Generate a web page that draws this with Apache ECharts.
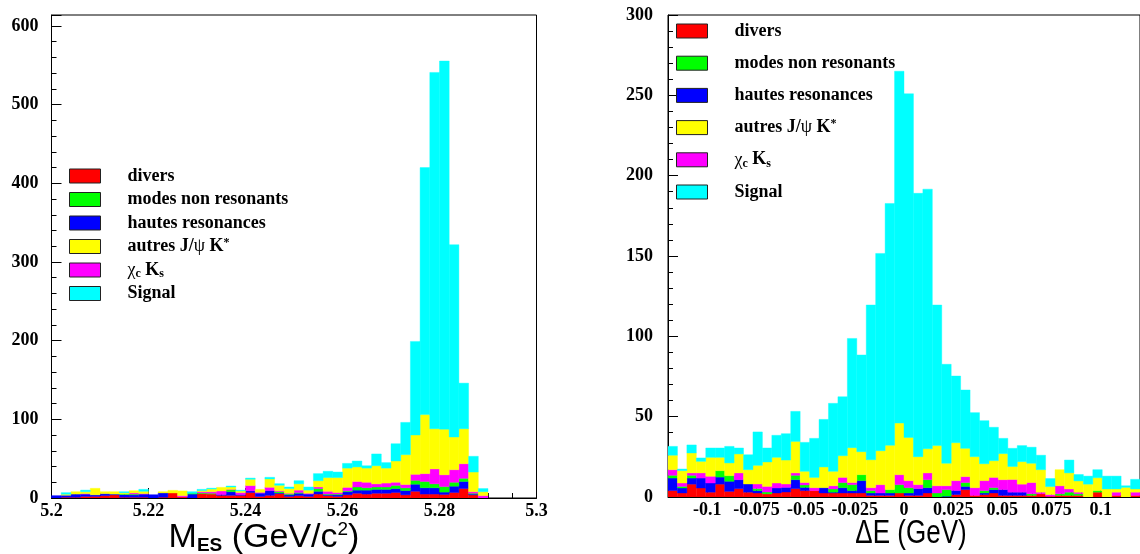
<!DOCTYPE html>
<html><head><meta charset="utf-8">
<script src="https://cdn.jsdelivr.net/npm/echarts@6/dist/echarts.min.js"></script>
<style>html,body{margin:0;padding:0;background:#fff}#c{width:1140px;height:554px}</style>
</head><body><div id="c"></div>
<script>
// ---------- categories / legend ----------
const names = ['divers', 'modes non resonants', 'hautes resonances', 'autres J/ψ K*', 'χc Ks', 'Signal'];
const colors = {'divers':'#ff0000','modes non resonants':'#00ff00','hautes resonances':'#0000ff','autres J/ψ K*':'#ffff00','χc Ks':'#ff00ff','Signal':'#00ffff'};
// stacking order, bottom to top
const stackOrder = ['divers', 'hautes resonances', 'modes non resonants', 'χc Ks', 'autres J/ψ K*', 'Signal'];

// ---------- left panel: M_ES, 50 bins of 0.002 GeV/c^2 from 5.2 ----------
const mesStart = 5.2, mesWidth = 0.002;
const mesDivers  = [0,1,1,2,2,3,4,1,1,1, 0,1,6.4,1.5,0,5.5,5,3.4,3.4,3.4, 7,2,3.4,5.5,2,3,2,5,3,2, 4,6,5,6,6,7,4,8.5,5,5, 4.5,7,12,4,0,0,0,0,0,0];
const mesHautes  = [3,2.5,4,3,2,2.5,1,3.5,3,4, 4.2,5.5,0,0,5,0,0,1,4.6,1, 2,4.2,6,1,2,3,3,3.5,1,2, 4,4,5,5,5,5,5.5,9,8,8, 3,8,9,1,0,0,0,0,0,0];
const mesNonRes  = [0,0,0,0,0,0,0,0.5,1,0, 0,0,0,0,1,1,1,0,2.5,0, 0,0,0,1.7,1,1,0,3.5,1,1, 1,4,3,3,3,4,3.4,5,8,5, 7,5,4,1,0,0,0,0,0,0];
const mesChic    = [0,0,0,0.5,0,0,0,0,1.5,0.5, 0,0,0,1.5,0,1.5,2,4.5,0.5,2.5, 6.8,1,4.2,1,1,3,1,2,3.5,2, 4.5,7,7,4,5,4,4.2,7.6,10,19, 15,16,18.6,2,3,0,0,0,0,0];
const mesAutres  = [0,1.3,3,2.5,8.3,2.5,3,1.5,2.8,3, 0,1.5,3.3,6,0,1.5,3.4,4.6,3,2, 8,3.8,10.6,7,6,8,4,8,17.5,19, 24.5,18.5,18,23,19,27,38,50,75,51, 58,41.5,44.4,25,5,0,0,0,0,0];
const mesSignal  = [0,2,0,2,0,0,0,1.5,0,2.5, 0,0,0,0,2,1.5,1,0,1.2,1, 1.5,0,2.1,2,2,4,4,9,8,7, 6,7.5,3,15,7,22,41,119,314,453, 468,244.5,58,20,4,0,0,0,0,0];

// ---------- right panel: Delta E, 50 bins of 0.0048 GeV from -0.12 ----------
const deStart = -0.12, deWidth = 0.0048;
const deDivers = [4,2.5,8,5.6,3,8,3.5,5.2,3,2.5, 1.9,2.5,3.1,5.2,4,4,2.5,2.5,2.5,2.5, 2.5,1,1,1,2.5,1,1,2.5,0,0, 1.5,4.6,1,1.5,2.5,1,1,1,1,2, 0.5,1,1,1,0,3,0,1,0,1];
const deHautes = [7.8,3.1,3.8,6.2,5.7,4.4,6.3,5.6,5.1,1.5, 0,3.1,2.9,5.6,2,0,3.3,0.5,3.3,1.5, 7.7,1.5,1.5,1.5,0,1.5,4.2,3.3,0,0.5, 2.5,2,0,1,2.1,3.6,2,2,0,0, 0,0,0,0,0,0,0,0,0,0];
const deNonRes = [1.7,1,1.7,0,0,4,3.5,0,0,1.2, 1.2,0,0,2.7,1.5,0,0,2,3.2,3.7, 3.7,1.5,0,2.1,5.2,3.3,0,5,2.5,4.1, 0,2.4,0,1.5,1.2,0,0,0,1,0, 0,1,2,1,0,1,0,0,0,0];
const deChic   = [3.5,2.1,1.5,3.2,4.2,0,0,4.2,0,2.9, 3.5,3.1,2.1,1.5,1.5,1.8,0,2,3.2,1.3, 0,1.8,5.2,0,6.2,4.4,2.5,4.2,4.5,2.4, 6.2,3.7,4.8,6.2,6.4,6.2,7.9,5,7,1, 1,5,2,1,0,0,0,2,0,2];
const deAutres = [9,7.7,12.4,7.2,11.8,8.3,7.9,11.8,8.9,11.6, 15.2,16,14.9,19.6,7,6.4,12.9,9,13.5,21.7, 14.3,17.4,21.1,27.6,32.1,26.9,17.4,15,25,14, 23.6,17.6,19.3,10.5,10.4,16.2,8.1,14,12,14, 5,10,10,7,8,8,5,2,6,2];
const deSignal = [5.5,1,5,2.1,5.8,5.8,10.3,3.7,9.3,20.8, 8.7,13.7,16.4,18.7,18,24.3,29.6,42.3,36.7,68, 60.2,96.3,122.8,150.5,219,213.9,163.9,161.6,87.5,61.6, 41.5,36.3,27.4,26.8,20.8,9.5,11.3,10,10,9, 5,0,8,4,5,5,8,8,1,6];

// ---------- tick labels ----------
const mesTicks = [5.2, 5.22, 5.24, 5.26, 5.28, 5.3];
const deTicks = [-0.1, -0.075, -0.05, -0.025, 0, 0.025, 0.05, 0.075, 0.1];
const deMinor = [];
for (let v = -115; v <= 115; v += 5) deMinor.push(v / 1000);

const mesComp = {'divers':mesDivers,'modes non resonants':mesNonRes,'hautes resonances':mesHautes,'autres J/ψ K*':mesAutres,'χc Ks':mesChic,'Signal':mesSignal};
const deComp  = {'divers':deDivers,'modes non resonants':deNonRes,'hautes resonances':deHautes,'autres J/ψ K*':deAutres,'χc Ks':deChic,'Signal':deSignal};

function renderBin(params, api) {
  const x0 = api.value(0), x1 = api.value(1), y0 = api.value(2), y1 = api.value(3);
  if (!(y1 > y0)) return null;
  const a = api.coord([x0, y1]), b = api.coord([x1, y0]);
  const c = api.visual('color');
  return {type: 'rect', shape: {x: a[0], y: a[1], width: b[0] - a[0], height: b[1] - a[1]},
          style: {fill: c, stroke: c, lineWidth: 0.4}};
}

function buildSeries(comp, start, width, axisIdx) {
  const n = comp['Signal'].length;
  const base = new Array(n).fill(0);
  const out = [];
  stackOrder.forEach(name => {
    const vals = comp[name];
    const data = [];
    for (let i = 0; i < n; i++) {
      const lo = base[i], hi = base[i] + vals[i];
      data.push([start + i * width, start + (i + 1) * width, lo, hi]);
      base[i] = hi;
    }
    out.push({type: 'custom', name: name, xAxisIndex: axisIdx, yAxisIndex: axisIdx,
      renderItem: renderBin, clip: true, color: colors[name],
      encode: {x: [0, 1], y: [2, 3]}, data: data, z: 2});
  });
  return out;
}

const serif = "'Liberation Serif', 'DejaVu Serif', serif";
const sans = "'Liberation Sans', 'DejaVu Sans', sans-serif";
const lblStyle = {color: '#000', fontFamily: serif, fontWeight: 'bold', fontSize: 18};

const legendRich = {
  gap: {width: 22},
  b: {fontFamily: serif, fontWeight: 'bold', fontSize: 18, color: '#000', lineHeight: 20},
  g: {fontFamily: serif, fontWeight: 'normal', fontSize: 18, color: '#000', lineHeight: 20},
  sub: {fontFamily: serif, fontWeight: 'bold', fontSize: 12, color: '#000', lineHeight: 12, verticalAlign: 'bottom'},
  sup: {fontFamily: serif, fontWeight: 'bold', fontSize: 12, color: '#000', lineHeight: 12, verticalAlign: 'top'}
};
function legendFmt(name) {
  if (name === 'autres J/ψ K*') return '{gap|}{b|autres J/}{g|ψ}{b| K}{sup|*}';
  if (name === 'χc Ks') return '{gap|}{g|χ}{sub|c}{b| K}{sub|s}';
  return '{gap|}{b|' + name + '}';
}
function legendCfg(left, top, gap) {
  return {left: left, top: top, orient: 'vertical', itemWidth: 31, itemHeight: 14, itemGap: gap,
    selectedMode: false, icon: 'rect', padding: 0,
    itemStyle: {borderColor: '#222', borderWidth: 1},
    data: names.map(n => ({name: n, icon: 'rect'})),
    formatter: legendFmt,
    textStyle: {fontFamily: serif, fontWeight: 'bold', fontSize: 18, color: '#000', lineHeight: 20, rich: legendRich}};
}

const axisLineStyle = {show: true, onZero: false, lineStyle: {color: '#000', width: 1}};

const option = {
  animation: false,
  backgroundColor: '#fff',
  grid: [
    {left: 51.5, right: 1140 - 536.5, top: 15, bottom: 554 - 498, show: true, borderColor: '#000', borderWidth: 1, backgroundColor: 'transparent'},
    {left: 668, right: -7, top: 15, bottom: 554 - 497, show: true, borderColor: '#000', borderWidth: 1, backgroundColor: 'transparent'}
  ],
  xAxis: [
    {type: 'value', gridIndex: 0, min: 5.2, max: 5.3, interval: 0.02, position: 'bottom',
     axisLine: axisLineStyle, splitLine: {show: false},
     axisTick: {show: true, inside: true, length: 10, lineStyle: {color: '#000'}},
     minorTick: {show: true, splitNumber: 4, length: 5, lineStyle: {color: '#000'}},
     axisLabel: Object.assign({margin: 4, showMinLabel: true, showMaxLabel: true}, lblStyle)},
    {type: 'value', gridIndex: 1, min: -0.12, max: 0.12, position: 'bottom',
     axisLine: axisLineStyle, splitLine: {show: false},
     axisTick: {show: true, inside: true, length: 10, customValues: deTicks, lineStyle: {color: '#000'}},
     axisLabel: Object.assign({margin: 4, customValues: deTicks}, lblStyle)},
    {type: 'value', gridIndex: 1, min: -0.12, max: 0.12, position: 'bottom',
     axisLine: {show: false, onZero: false}, splitLine: {show: false},
     axisTick: {show: true, inside: true, length: 5, customValues: deMinor, lineStyle: {color: '#000'}},
     axisLabel: {show: false}}
  ],
  yAxis: [
    {type: 'value', gridIndex: 0, min: 0, max: 614, interval: 100, position: 'left',
     axisLine: axisLineStyle, splitLine: {show: false},
     axisTick: {show: true, inside: true, length: 10, lineStyle: {color: '#000'}},
     minorTick: {show: true, splitNumber: 5, length: 5, lineStyle: {color: '#000'}},
     axisLabel: Object.assign({margin: 13, formatter: v => (Math.round(v) % 100 === 0 ? String(Math.round(v)) : '')}, lblStyle)},
    {type: 'value', gridIndex: 1, min: 0, max: 300, interval: 50, position: 'left',
     axisLine: axisLineStyle, splitLine: {show: false},
     axisTick: {show: true, inside: true, length: 10, lineStyle: {color: '#000'}},
     minorTick: {show: true, splitNumber: 5, length: 5, lineStyle: {color: '#000'}},
     axisLabel: Object.assign({margin: 15}, lblStyle)}
  ],
  legend: [legendCfg(69, 166, 3.5), legendCfg(676, 21, 12.2)],
  graphic: [
    {type: 'text', x: 264, y: 538, scaleY: 0.95, z: 10,
     style: {text: '{n|M}{s|ES}{n| (GeV/c}{p|2}{n|)}', align: 'center', verticalAlign: 'middle',
       rich: {n: {fontFamily: sans, fontSize: 34, fill: '#000', lineHeight: 36},
              s: {fontFamily: sans, fontWeight: 'bold', fontSize: 19, fill: '#000', lineHeight: 18, verticalAlign: 'bottom'},
              p: {fontFamily: sans, fontSize: 19, fill: '#000', lineHeight: 18, verticalAlign: 'top'}}}},
    {type: 'text', x: 911, y: 534, scaleY: 1.25, z: 10,
     style: {text: 'ΔE (GeV)', align: 'center', verticalAlign: 'middle', fontFamily: sans, fontSize: 26, fill: '#000'}}
  ],
  series: [].concat(buildSeries(mesComp, mesStart, mesWidth, 0), buildSeries(deComp, deStart, deWidth, 1))
};

const chart = echarts.init(document.getElementById('c'), null, {renderer: 'canvas'});
chart.setOption(option);
</script>
</body></html>
